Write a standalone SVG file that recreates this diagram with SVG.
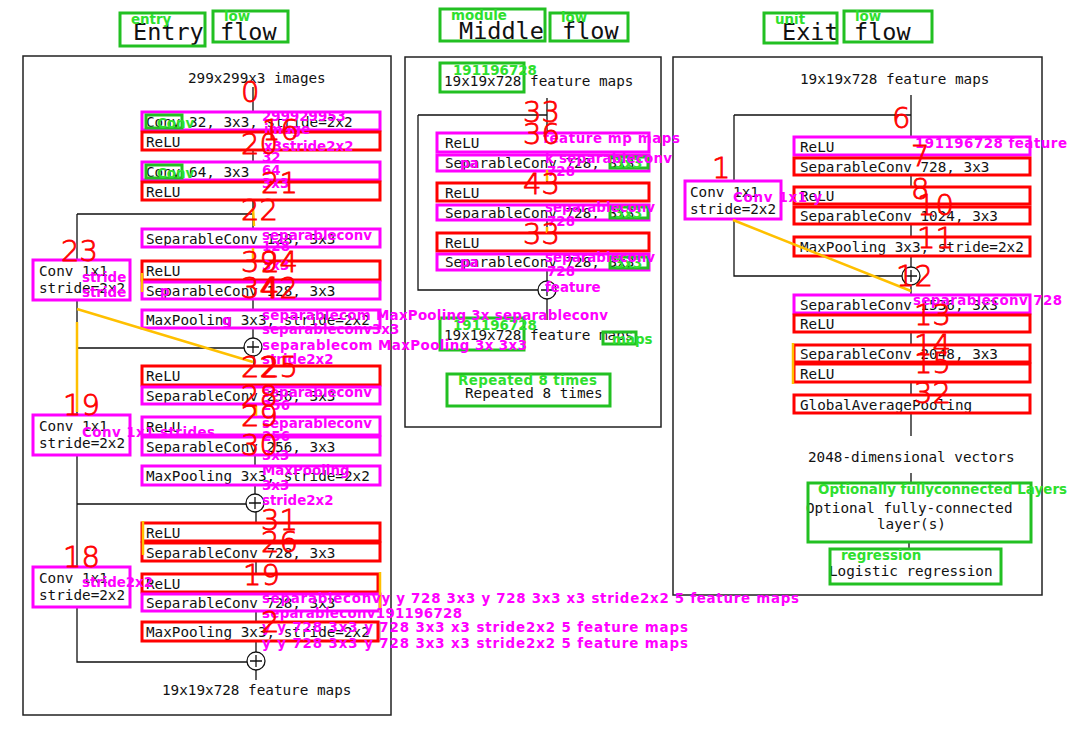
<svg xmlns="http://www.w3.org/2000/svg" width="1068" height="730" viewBox="0 0 1068 730">
<style>
.mono{font-family:"DejaVu Sans Mono","Liberation Mono",monospace;font-size:14.3px;fill:#111}
.title{font-family:"DejaVu Sans Mono","Liberation Mono",monospace;font-size:23.5px;fill:#111}
.node{fill:#fff;stroke:#9a9a9a;stroke-width:1}
.cbox{fill:#fff;stroke:#9a9a9a;stroke-width:1}
.ln{stroke:#111;stroke-width:1.3;fill:none}
.panel{fill:none;stroke:#222;stroke-width:1.5}
.rb{fill:none;stroke:#ff0000;stroke-width:3}
.mb{fill:none;stroke:#ff00ff;stroke-width:3}
.gb{fill:none;stroke:#22c022;stroke-width:3}
.ob{stroke:#ffc000;stroke-width:2.5;fill:none}
.num{font-family:"DejaVu Sans","Liberation Sans",sans-serif;font-weight:200;font-size:29px;fill:#ff0000;stroke:#ff0000;stroke-width:0.8}
.ml{font-family:"DejaVu Sans",sans-serif;font-weight:bold;font-size:13.4px;fill:#ff00ff}
.gl{font-family:"DejaVu Sans",sans-serif;font-weight:bold;font-size:13.4px;fill:#2ee02e}
.add{fill:#fff;stroke:#111;stroke-width:1.3}
</style>
<rect width="1068" height="730" fill="#fff"/>
<g id="panels">
<rect class="panel" x="23" y="56" width="368" height="659"/>
<rect class="panel" x="405" y="57" width="256" height="370"/>
<rect class="panel" x="673" y="57" width="369" height="538"/>
</g>
<g id="titles">
<text class="title" x="133" y="40">Entry</text>
<text class="title" x="220" y="40">flow</text>
<text class="title" x="459" y="39">Middle</text>
<text class="title" x="562" y="39">flow</text>
<text class="title" x="782" y="40">Exit</text>
<text class="title" x="854" y="40">flow</text>
</g>
<g id="connectors">
<path class="ln" d="M253 87V112M253 150V162M253 200V229M77 214H253M77 214V260M253 247V261M253 299V310M253 328V338M77 300V415M77 348H244M254 356V366M255 404V417M255 455V466M255 485V494M77 455V567M77 504H246M256 512V523M256 561V574M256 611V622M256 641V652M77 607V662H247M256 670V680"/>
<path class="ln" d="M547 98V133M418 115H547M418 115V290H538M547 171V183M547 220V233M547 270V281M547 299V320"/>
<path class="ln" d="M911 95V137M734 115H911M734 115V181M734 219V276H902M911 175V187M911 224V237M911 256V267M911 285V295M911 332V345M911 382V395M911 413V436M911 473V483M909 542V549"/>
</g>
<g id="entry-add1"><circle class="add" cx="253" cy="347" r="9"/><path class="ln" d="M247 347H259M253 341V353"/></g>
<g id="entry-add2"><circle class="add" cx="255" cy="503" r="9"/><path class="ln" d="M249 503H261M255 497V509"/></g>
<g id="entry-add3"><circle class="add" cx="256" cy="661" r="9"/><path class="ln" d="M250 661H262M256 655V667"/></g>
<g id="middle-add"><circle class="add" cx="547" cy="290" r="9"/><path class="ln" d="M541 290H553M547 284V296"/></g>
<g id="exit-add"><circle class="add" cx="911" cy="276" r="9"/><path class="ln" d="M905 276H917M911 270V282"/></g>

<g id="entry-input"><text class="mono" x="188" y="83">299x299x3 images</text></g>
<g id="e1"><rect class="node" x="142" y="112" width="238" height="18"/><text class="mono" x="146" y="126.5">Conv 32, 3x3, stride=2x2</text></g>
<g id="e2"><rect class="node" x="142" y="132" width="238" height="18"/><text class="mono" x="146" y="146.5">ReLU</text></g>
<g id="e3"><rect class="node" x="142" y="162" width="238" height="18"/><text class="mono" x="146" y="176.5">Conv 64, 3x3</text></g>
<g id="e4"><rect class="node" x="142" y="182" width="238" height="18"/><text class="mono" x="146" y="196.5">ReLU</text></g>
<g id="e5"><rect class="node" x="142" y="229" width="238" height="18"/><text class="mono" x="146" y="243.5">SeparableConv 128, 3x3</text></g>
<g id="e6"><rect class="node" x="142" y="261" width="238" height="19"/><text class="mono" x="146" y="276">ReLU</text></g>
<g id="e7"><rect class="node" x="142" y="282" width="238" height="17"/><text class="mono" x="146" y="296">SeparableConv 128, 3x3</text></g>
<g id="e8"><rect class="node" x="142" y="310" width="238" height="18"/><text class="mono" x="146" y="324.5">MaxPooling 3x3, stride=2x2</text></g>
<g id="e9"><rect class="node" x="142" y="366" width="238" height="19"/><text class="mono" x="146" y="381">ReLU</text></g>
<g id="e10"><rect class="node" x="142" y="387" width="238" height="17"/><text class="mono" x="146" y="401">SeparableConv 256, 3x3</text></g>
<g id="e11"><rect class="node" x="142" y="417" width="238" height="18"/><text class="mono" x="146" y="431.5">ReLU</text></g>
<g id="e12"><rect class="node" x="142" y="437" width="238" height="18"/><text class="mono" x="146" y="451.5">SeparableConv 256, 3x3</text></g>
<g id="e13"><rect class="node" x="142" y="466" width="238" height="19"/><text class="mono" x="146" y="481">MaxPooling 3x3, stride=2x2</text></g>
<g id="e14"><rect class="node" x="142" y="523" width="238" height="18"/><text class="mono" x="146" y="537.5">ReLU</text></g>
<g id="e15"><rect class="node" x="142" y="543" width="238" height="18"/><text class="mono" x="146" y="557.5">SeparableConv 728, 3x3</text></g>
<g id="e16"><rect class="node" x="142" y="574" width="238" height="18"/><text class="mono" x="146" y="588.5">ReLU</text></g>
<g id="e17"><rect class="node" x="142" y="594" width="238" height="17"/><text class="mono" x="146" y="608">SeparableConv 728, 3x3</text></g>
<g id="e18"><rect class="node" x="142" y="622" width="238" height="19"/><text class="mono" x="146" y="637">MaxPooling 3x3, stride=2x2</text></g>
<g id="e-res1"><rect class="cbox" x="33" y="260" width="97" height="40"/><text class="mono" x="39" y="276">Conv 1x1</text><text class="mono" x="39" y="293">stride=2x2</text></g>
<g id="e-res2"><rect class="cbox" x="33" y="415" width="97" height="40"/><text class="mono" x="39" y="431">Conv 1x1</text><text class="mono" x="39" y="448">stride=2x2</text></g>
<g id="e-res3"><rect class="cbox" x="33" y="567" width="97" height="40"/><text class="mono" x="39" y="583">Conv 1x1</text><text class="mono" x="39" y="600">stride=2x2</text></g>
<g id="entry-output"><text class="mono" x="162" y="695">19x19x728 feature maps</text></g>

<g id="middle-input"><text class="mono" x="444" y="86">19x19x728 feature maps</text></g>
<g id="m1"><rect class="node" x="437" y="133" width="212" height="19"/><text class="mono" x="445" y="148">ReLU</text></g>
<g id="m2"><rect class="node" x="437" y="155" width="212" height="16"/><text class="mono" x="445" y="168">SeparableConv 728, 3x3</text></g>
<g id="m3"><rect class="node" x="437" y="183" width="212" height="18"/><text class="mono" x="445" y="197.5">ReLU</text></g>
<g id="m4"><rect class="node" x="437" y="205" width="212" height="15"/><text class="mono" x="445" y="217.5">SeparableConv 728, 3x3</text></g>
<g id="m5"><rect class="node" x="437" y="233" width="212" height="18"/><text class="mono" x="445" y="247.5">ReLU</text></g>
<g id="m6"><rect class="node" x="437" y="254" width="212" height="16"/><text class="mono" x="445" y="267">SeparableConv 728, 3x3</text></g>
<g id="middle-output"><text class="mono" x="444" y="340">19x19x728 feature maps</text></g>
<g id="middle-repeat"><text class="mono" x="465" y="398">Repeated 8 times</text></g>

<g id="exit-input"><text class="mono" x="800" y="84">19x19x728 feature maps</text></g>
<g id="x1"><rect class="node" x="794" y="137" width="236" height="18"/><text class="mono" x="800" y="151.5">ReLU</text></g>
<g id="x2"><rect class="node" x="794" y="158" width="236" height="17"/><text class="mono" x="800" y="172">SeparableConv 728, 3x3</text></g>
<g id="x3"><rect class="node" x="794" y="187" width="236" height="17"/><text class="mono" x="800" y="201">ReLU</text></g>
<g id="x4"><rect class="node" x="794" y="207" width="236" height="17"/><text class="mono" x="800" y="221">SeparableConv 1024, 3x3</text></g>
<g id="x5"><rect class="node" x="794" y="237" width="236" height="19"/><text class="mono" x="800" y="252">MaxPooling 3x3, stride=2x2</text></g>
<g id="x-res"><rect class="cbox" x="685" y="181" width="96" height="38"/><text class="mono" x="690" y="197">Conv 1x1</text><text class="mono" x="690" y="214">stride=2x2</text></g>
<g id="x6"><rect class="node" x="794" y="295" width="236" height="18"/><text class="mono" x="800" y="309.5">SeparableConv 1536, 3x3</text></g>
<g id="x7"><rect class="node" x="794" y="315" width="236" height="17"/><text class="mono" x="800" y="329">ReLU</text></g>
<g id="x8"><rect class="node" x="794" y="345" width="236" height="17"/><text class="mono" x="800" y="359">SeparableConv 2048, 3x3</text></g>
<g id="x9"><rect class="node" x="794" y="364" width="236" height="18"/><text class="mono" x="800" y="378.5">ReLU</text></g>
<g id="x10"><rect class="node" x="794" y="395" width="236" height="18"/><text class="mono" x="800" y="409.5">GlobalAveragePooling</text></g>
<g id="x-vec"><text class="mono" x="808" y="462">2048-dimensional vectors</text></g>
<g id="x-fc"><text class="mono" x="806" y="513">Optional fully-connected</text><text class="mono" x="877" y="529">layer(s)</text></g>
<g id="x-lr"><text class="mono" x="829" y="576">Logistic regression</text></g>

<g id="overlay-boxes">
<rect class="gb" x="120" y="13" width="85" height="33"/>
<rect class="gb" x="213" y="11" width="75" height="31"/>
<rect class="gb" x="440" y="9" width="105" height="32"/>
<rect class="gb" x="550" y="13" width="78" height="28"/>
<rect class="gb" x="764" y="13" width="73" height="30"/>
<rect class="gb" x="844" y="11" width="88" height="31"/>
<rect class="mb" x="142" y="112" width="238" height="18"/>
<rect class="rb" x="142" y="132" width="238" height="18"/>
<rect class="mb" x="142" y="162" width="238" height="18"/>
<rect class="rb" x="142" y="182" width="238" height="18"/>
<rect class="gb" x="146" y="115" width="36" height="13"/>
<rect class="gb" x="146" y="165" width="36" height="13"/>
<rect class="mb" x="142" y="229" width="238" height="18"/>
<rect class="rb" x="142" y="261" width="238" height="19"/>
<rect class="mb" x="142" y="282" width="238" height="17"/>
<rect class="mb" x="142" y="310" width="238" height="18"/>
<rect class="rb" x="142" y="366" width="238" height="19"/>
<rect class="mb" x="142" y="387" width="238" height="17"/>
<rect class="mb" x="142" y="417" width="238" height="18"/>
<rect class="mb" x="142" y="437" width="238" height="18"/>
<rect class="mb" x="142" y="466" width="238" height="19"/>
<rect class="rb" x="142" y="523" width="238" height="18"/>
<rect class="rb" x="142" y="543" width="238" height="18"/>
<rect class="rb" x="142" y="574" width="236" height="18"/>
<rect class="mb" x="142" y="594" width="238" height="17"/>
<rect class="rb" x="142" y="622" width="236" height="19"/>
<rect class="mb" x="33" y="260" width="97" height="40"/>
<rect class="mb" x="33" y="415" width="97" height="40"/>
<rect class="mb" x="33" y="567" width="97" height="40"/>
<rect class="gb" x="440" y="63" width="84" height="29"/>
<rect class="mb" x="437" y="133" width="212" height="19"/>
<rect class="mb" x="437" y="155" width="212" height="16"/>
<rect class="rb" x="437" y="183" width="212" height="18"/>
<rect class="mb" x="437" y="205" width="212" height="15"/>
<rect class="rb" x="437" y="233" width="212" height="18"/>
<rect class="mb" x="437" y="254" width="212" height="16"/>
<rect class="gb" x="610" y="157" width="38" height="11"/>
<rect class="gb" x="610" y="207" width="38" height="11"/>
<rect class="gb" x="610" y="257" width="38" height="11"/>
<rect class="gb" x="440" y="318" width="84" height="32"/>
<rect class="gb" x="603" y="332" width="33" height="12"/>
<rect class="gb" x="447" y="374" width="163" height="32"/>
<rect class="mb" x="794" y="137" width="236" height="18"/>
<rect class="rb" x="794" y="158" width="236" height="17"/>
<rect class="rb" x="794" y="187" width="236" height="17"/>
<rect class="rb" x="794" y="207" width="236" height="17"/>
<rect class="rb" x="794" y="237" width="236" height="19"/>
<rect class="mb" x="685" y="181" width="96" height="38"/>
<rect class="mb" x="794" y="295" width="236" height="18"/>
<rect class="rb" x="794" y="315" width="236" height="17"/>
<rect class="rb" x="794" y="345" width="236" height="17"/>
<rect class="rb" x="794" y="364" width="236" height="18"/>
<rect class="rb" x="794" y="395" width="236" height="18"/>
<rect class="gb" x="808" y="483" width="223" height="59"/>
<rect class="gb" x="830" y="549" width="171" height="35"/>
</g>

<g id="overlay-marks">
<path class="ob" d="M253 208L254 226M253 248V262M142 273V292M77 309L253 362M77 322V412M256 406V416M143 521V555M380 572V612M547 170V181M547 227V233M733 220L911 291M793 343V384"/>
</g>

<g id="green-labels">
<text class="gl" x="131" y="24">entry</text>
<text class="gl" x="224" y="21">low</text>
<text class="gl" x="451" y="20">module</text>
<text class="gl" x="561" y="22">low</text>
<text class="gl" x="775" y="24">unit</text>
<text class="gl" x="855" y="21">low</text>
<text class="gl" x="157" y="128">Conv</text>
<text class="gl" x="157" y="178">Conv</text>
<text class="gl" x="453" y="75">191196728</text>
<text class="gl" x="615" y="168">3x3</text>
<text class="gl" x="615" y="218">3x3</text>
<text class="gl" x="615" y="268">3x3</text>
<text class="gl" x="453" y="330">191196728</text>
<text class="gl" x="612" y="344">maps</text>
<text class="gl" x="458" y="385" textLength="139">Repeated 8 times</text>
<text class="gl" x="818" y="494" textLength="249">Optionally fullyconnected Layers</text>
<text class="gl" x="841" y="560">regression</text>
</g>

<g id="magenta-labels">
<text class="ml" x="262" y="121">299929953</text>
<text class="ml" x="264" y="134">image</text>
<text class="ml" x="264" y="151">x3stride2x2</text>
<text class="ml" x="262" y="162">32</text>
<text class="ml" x="262" y="175">64</text>
<text class="ml" x="262" y="188">3x3</text>
<text class="ml" x="262" y="240">separableconv</text>
<text class="ml" x="262" y="251">128</text>
<text class="ml" x="262" y="270">3x3</text>
<text class="ml" x="160" y="296">p</text>
<text class="ml" x="262" y="320" textLength="346">separablecom MaxPooling 3x separableconv</text>
<text class="ml" x="222" y="325">g</text>
<text class="ml" x="262" y="334">separableconv3x3</text>
<text class="ml" x="262" y="350" textLength="265">separablecom MaxPooling 3x 3x3</text>
<text class="ml" x="262" y="364">stride2x2</text>
<text class="ml" x="262" y="397">separableconv</text>
<text class="ml" x="262" y="410">256</text>
<text class="ml" x="262" y="428">separableconv</text>
<text class="ml" x="262" y="441">256</text>
<text class="ml" x="262" y="460">3x3</text>
<text class="ml" x="262" y="475">MaxPooling</text>
<text class="ml" x="262" y="490">3x3</text>
<text class="ml" x="262" y="505">stride2x2</text>
<text class="ml" x="82" y="282">stride</text>
<text class="ml" x="82" y="297">stride</text>
<text class="ml" x="82" y="437" textLength="133">Conv 1x1 strides</text>
<text class="ml" x="82" y="587" textLength="71">stride2x2</text>
<text class="ml" x="262" y="603" textLength="537">separableconvy y 728 3x3 y 728 3x3 x3 stride2x2 5 feature maps</text>
<text class="ml" x="262" y="618" textLength="200">separableconv191196728</text>
<text class="ml" x="262" y="632" textLength="426">y y 728 3x3 y 728 3x3 x3 stride2x2 5 feature maps</text>
<text class="ml" x="262" y="648" textLength="426">y y 728 3x3 y 728 3x3 x3 stride2x2 5 feature maps</text>
<text class="ml" x="543" y="143" textLength="137">feature mp maps</text>
<text class="ml" x="545" y="163" textLength="127">k separableconv</text>
<text class="ml" x="547" y="176">728</text>
<text class="ml" x="545" y="212">separableconv</text>
<text class="ml" x="547" y="226">728</text>
<text class="ml" x="545" y="262">separableconv</text>
<text class="ml" x="547" y="276">728</text>
<text class="ml" x="545" y="292">feature</text>
<text class="ml" x="460" y="168">pa</text>
<text class="ml" x="460" y="267">pa</text>
<text class="ml" x="915" y="148" textLength="152">191196728 feature</text>
<text class="ml" x="733" y="202" textLength="89">Conv 1x1 y</text>
<text class="ml" x="913" y="305" textLength="149">separableconv 728</text>
</g>

<g id="red-numbers">
<text class="num" x="241" y="102">0</text>
<text class="num" x="262" y="140">16</text>
<text class="num" x="241" y="154">20</text>
<text class="num" x="261" y="193">21</text>
<text class="num" x="241" y="220">22</text>
<text class="num" x="61" y="261">23</text>
<text class="num" x="241" y="272">39</text>
<text class="num" x="261" y="272">24</text>
<text class="num" x="241" y="298">34</text>
<text class="num" x="261" y="298">42</text>
<text class="num" x="241" y="377">22</text>
<text class="num" x="261" y="377">25</text>
<text class="num" x="241" y="406">28</text>
<text class="num" x="241" y="426">29</text>
<text class="num" x="241" y="455">30</text>
<text class="num" x="63" y="415">19</text>
<text class="num" x="261" y="530">31</text>
<text class="num" x="261" y="552">26</text>
<text class="num" x="63" y="567">18</text>
<text class="num" x="243" y="585">19</text>
<text class="num" x="261" y="632">2</text>
<text class="num" x="523" y="122">33</text>
<text class="num" x="523" y="144">36</text>
<text class="num" x="523" y="194">43</text>
<text class="num" x="523" y="244">33</text>
<text class="num" x="892" y="128">6</text>
<text class="num" x="911" y="166">7</text>
<text class="num" x="911" y="199">8</text>
<text class="num" x="917" y="215">10</text>
<text class="num" x="917" y="248">11</text>
<text class="num" x="896" y="286">12</text>
<text class="num" x="914" y="325">13</text>
<text class="num" x="914" y="355">14</text>
<text class="num" x="914" y="373">15</text>
<text class="num" x="914" y="403">32</text>
<text class="num" x="712" y="178">1</text>
</g>
</svg>
